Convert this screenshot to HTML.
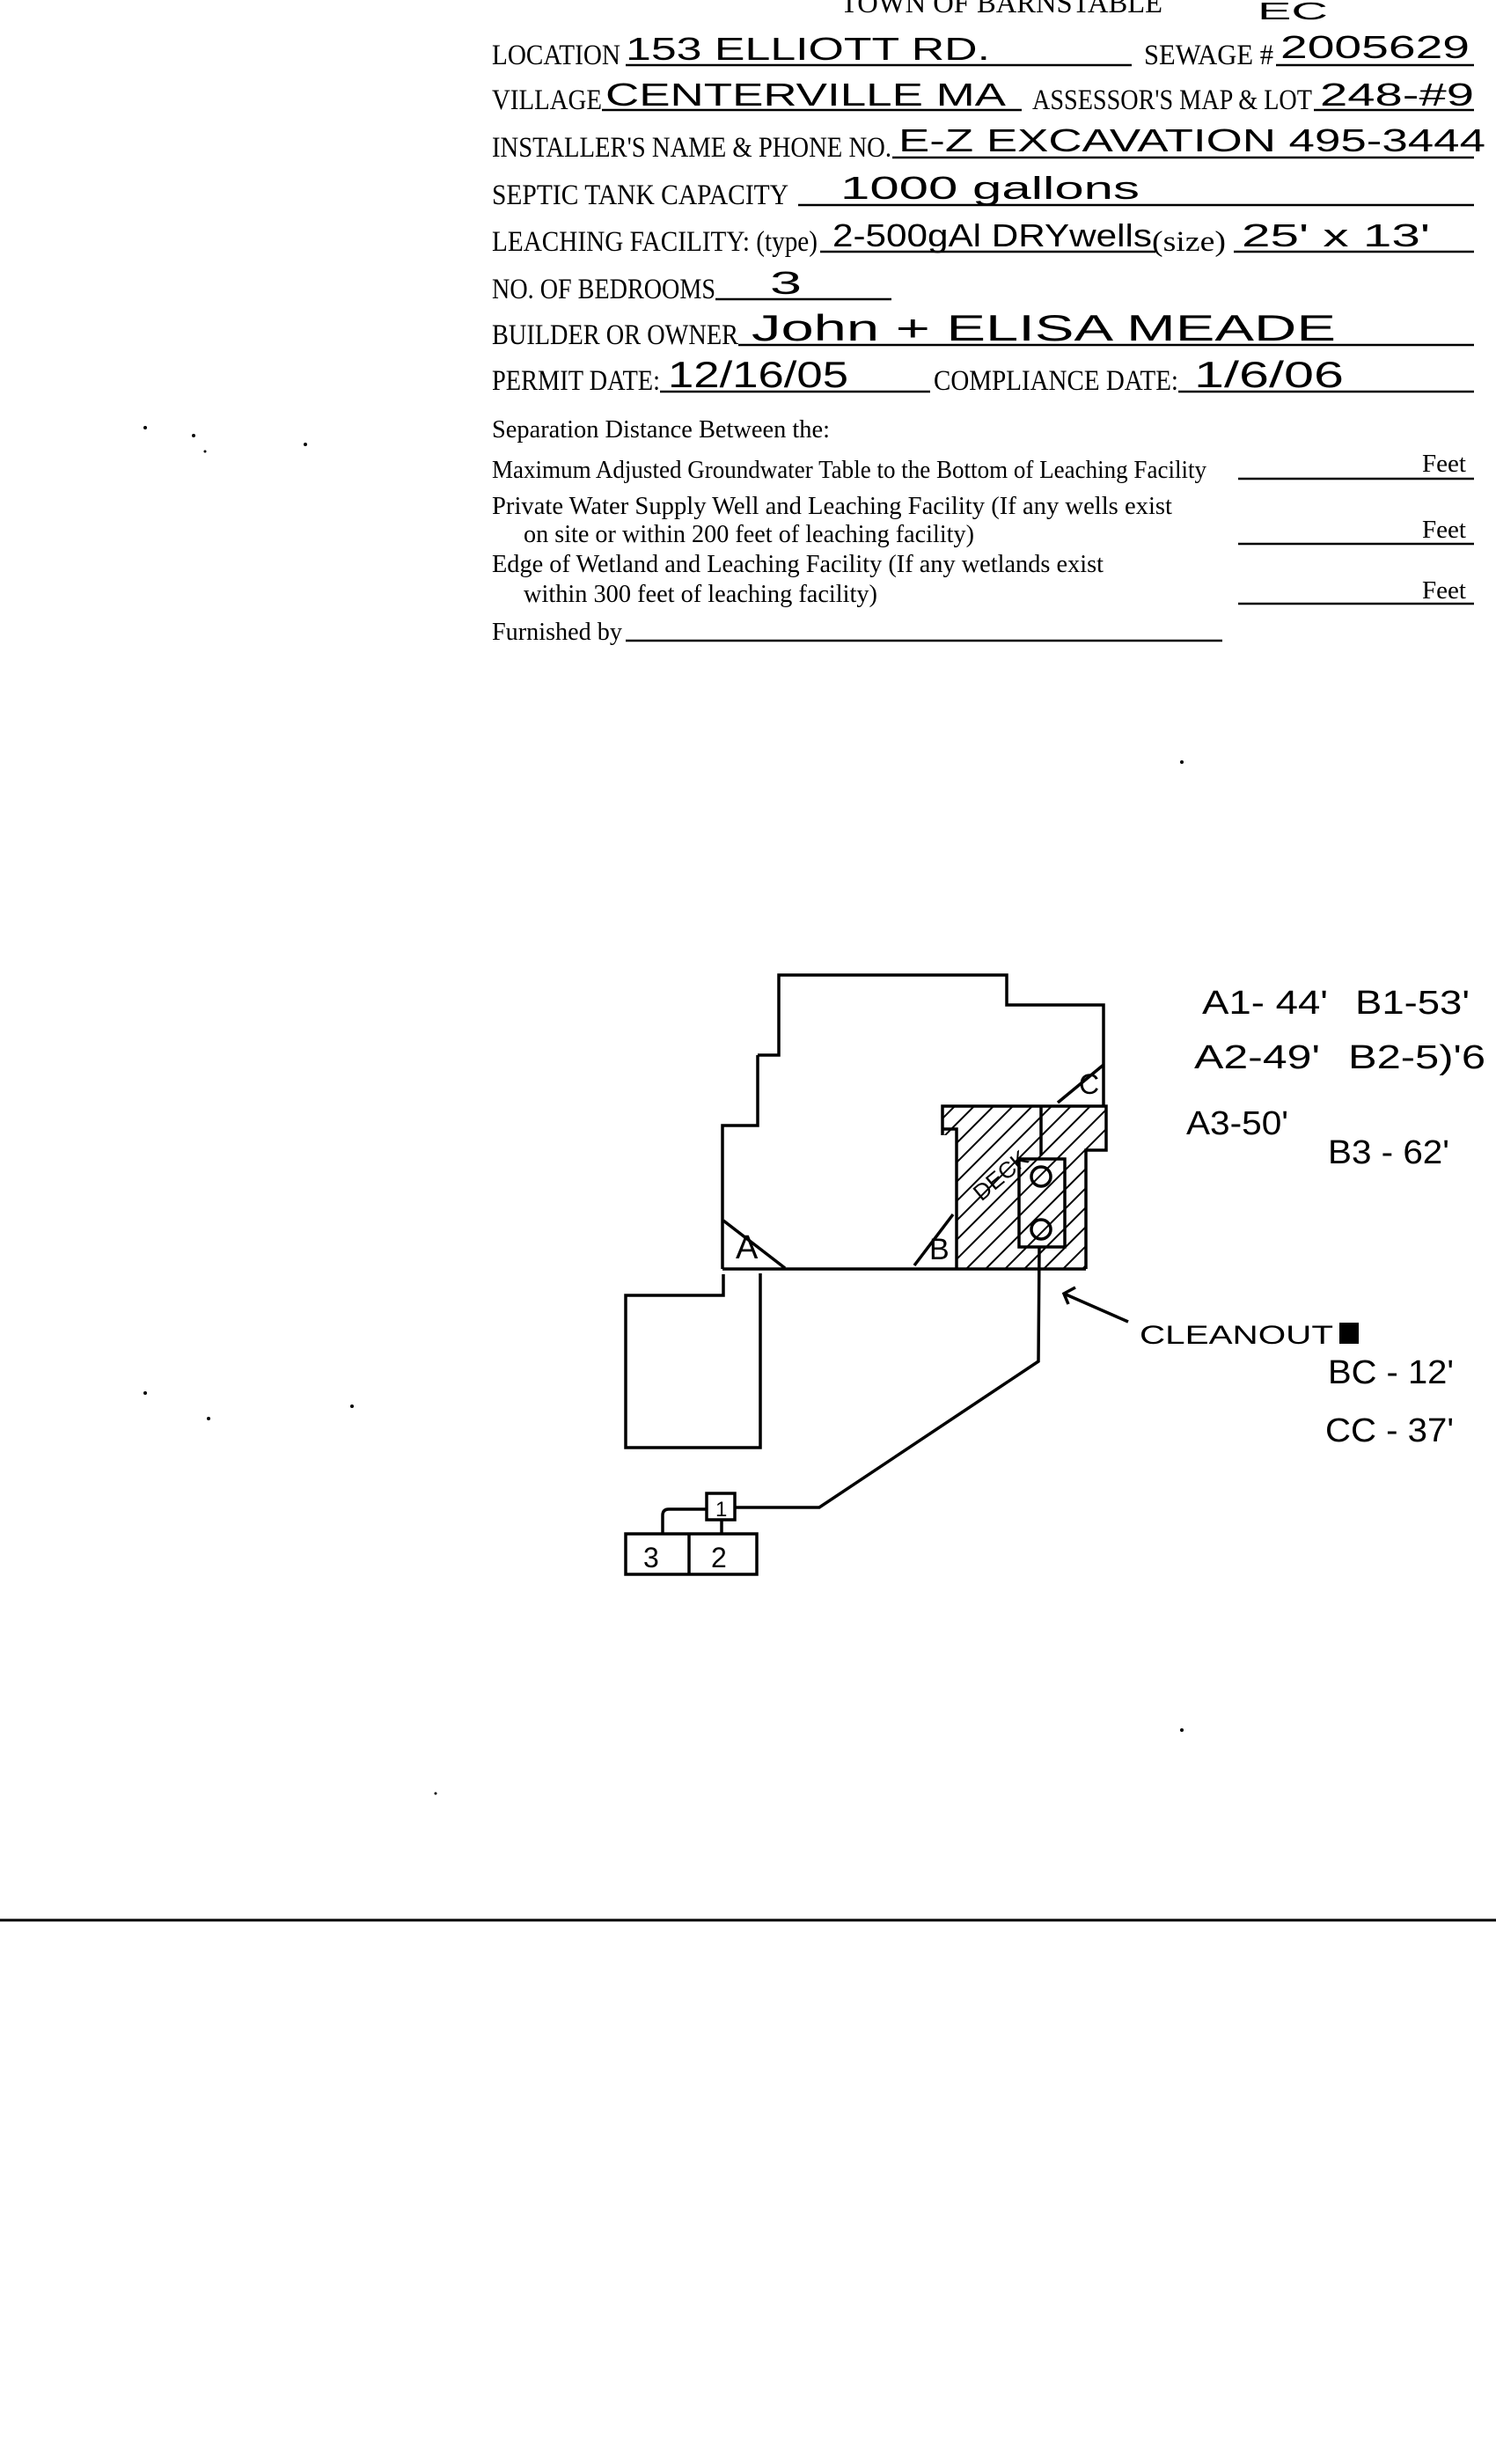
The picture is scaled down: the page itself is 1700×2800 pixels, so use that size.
<!DOCTYPE html>
<html><head><meta charset="utf-8"><style>html,body{margin:0;padding:0;background:#fff}svg{display:block}</style></head>
<body>
<svg width="1700" height="2800" viewBox="0 0 1700 2800" xmlns="http://www.w3.org/2000/svg">
<defs>
<clipPath id="deck"><polygon points="1071,1257 1257,1257 1257,1307 1234,1307 1234,1442 1087,1442 1087,1290 1071,1290"/></clipPath>
</defs>
<rect width="1700" height="2800" fill="#fff"/>
<g font-family="Liberation Serif, serif" fill="#000" font-size="33">
<text x="955" y="14" textLength="366" lengthAdjust="spacingAndGlyphs">TOWN OF BARNSTABLE</text>
<text x="559" y="73" textLength="146" lengthAdjust="spacingAndGlyphs">LOCATION</text>
<text x="1300" y="73" textLength="147" lengthAdjust="spacingAndGlyphs">SEWAGE #</text>
<text x="559" y="124" textLength="125" lengthAdjust="spacingAndGlyphs">VILLAGE</text>
<text x="1173" y="124" textLength="318" lengthAdjust="spacingAndGlyphs">ASSESSOR'S MAP &amp; LOT</text>
<text x="559" y="178" textLength="454" lengthAdjust="spacingAndGlyphs">INSTALLER'S NAME &amp; PHONE NO.</text>
<text x="559" y="232" textLength="337" lengthAdjust="spacingAndGlyphs">SEPTIC TANK CAPACITY</text>
<text x="559" y="285" textLength="370" lengthAdjust="spacingAndGlyphs">LEACHING FACILITY: (type)</text>
<text x="1309" y="285" textLength="84" lengthAdjust="spacingAndGlyphs">(size)</text>
<text x="559" y="339" textLength="254" lengthAdjust="spacingAndGlyphs">NO. OF BEDROOMS</text>
<text x="559" y="391" textLength="280" lengthAdjust="spacingAndGlyphs">BUILDER OR OWNER</text>
<text x="559" y="443" textLength="191" lengthAdjust="spacingAndGlyphs">PERMIT DATE:</text>
<text x="1061" y="443" textLength="278" lengthAdjust="spacingAndGlyphs">COMPLIANCE  DATE:</text>
<g font-size="29">
<text x="559" y="497" textLength="384" lengthAdjust="spacingAndGlyphs">Separation Distance Between the:</text>
<text x="559" y="543" textLength="812" lengthAdjust="spacingAndGlyphs">Maximum Adjusted Groundwater Table to the Bottom of Leaching Facility</text>
<text x="559" y="584" textLength="773" lengthAdjust="spacingAndGlyphs">Private Water Supply Well and Leaching Facility  (If any wells exist</text>
<text x="595" y="616" textLength="512" lengthAdjust="spacingAndGlyphs">on site or within 200 feet of leaching facility)</text>
<text x="559" y="650" textLength="695" lengthAdjust="spacingAndGlyphs">Edge of Wetland and Leaching Facility (If any wetlands exist</text>
<text x="595" y="684" textLength="402" lengthAdjust="spacingAndGlyphs">within 300 feet of leaching facility)</text>
<text x="559" y="727" textLength="148" lengthAdjust="spacingAndGlyphs">Furnished by</text>
<text x="1616" y="536" textLength="50" lengthAdjust="spacingAndGlyphs">Feet</text>
<text x="1616" y="611" textLength="50" lengthAdjust="spacingAndGlyphs">Feet</text>
<text x="1616" y="680" textLength="50" lengthAdjust="spacingAndGlyphs">Feet</text>
</g>
</g>
<g stroke="#000" stroke-width="2.5">
<line x1="711" y1="74" x2="1286" y2="74"/>
<line x1="1450" y1="74" x2="1675" y2="74"/>
<line x1="684" y1="125" x2="1161" y2="125"/>
<line x1="1493" y1="125" x2="1675" y2="125"/>
<line x1="1014" y1="179" x2="1675" y2="179"/>
<line x1="907" y1="233" x2="1675" y2="233"/>
<line x1="932" y1="286" x2="1313" y2="286"/>
<line x1="1402" y1="286" x2="1675" y2="286"/>
<line x1="813" y1="340" x2="1013" y2="340"/>
<line x1="839" y1="392" x2="1675" y2="392"/>
<line x1="750" y1="445" x2="1057" y2="445"/>
<line x1="1339" y1="445" x2="1675" y2="445"/>
<line x1="1407" y1="544" x2="1675" y2="544"/>
<line x1="1407" y1="618" x2="1675" y2="618"/>
<line x1="1407" y1="686" x2="1675" y2="686"/>
<line x1="711" y1="728" x2="1389" y2="728"/>
<line x1="0" y1="2182" x2="1700" y2="2182" stroke-width="3"/>
</g>
<g font-family="Liberation Sans, sans-serif" fill="#000" font-size="36">
<text x="1429" y="22" textLength="80" lengthAdjust="spacingAndGlyphs" font-size="28">EC</text>
<text x="711" y="68" textLength="414" lengthAdjust="spacingAndGlyphs">153 ELLIOTT RD.</text>
<text x="1455" y="66" textLength="215" lengthAdjust="spacingAndGlyphs">2005629</text>
<text x="688" y="120" textLength="455" lengthAdjust="spacingAndGlyphs">CENTERVILLE MA</text>
<text x="1500" y="120" textLength="175" lengthAdjust="spacingAndGlyphs">248-#9</text>
<text x="1021" y="172" textLength="667" lengthAdjust="spacingAndGlyphs">E-Z EXCAVATION 495-3444</text>
<text x="955" y="226" textLength="340" lengthAdjust="spacingAndGlyphs">1000 gallons</text>
<text x="946" y="280" textLength="363" lengthAdjust="spacingAndGlyphs">2-500gAl DRYwells</text>
<text x="1411" y="280" textLength="214" lengthAdjust="spacingAndGlyphs">25' x 13'</text>
<text x="875" y="334" textLength="36" lengthAdjust="spacingAndGlyphs">3</text>
<text x="854" y="387" textLength="664" lengthAdjust="spacingAndGlyphs" font-size="42">John + ELISA MEADE</text>
<text x="759" y="440" textLength="205" lengthAdjust="spacingAndGlyphs" font-size="42">12/16/05</text>
<text x="1357" y="440" textLength="170" lengthAdjust="spacingAndGlyphs" font-size="42">1/6/06</text>
<g font-size="38">
<text x="1366" y="1152" textLength="143" lengthAdjust="spacingAndGlyphs">A1- 44'</text>
<text x="1540" y="1152" textLength="130" lengthAdjust="spacingAndGlyphs">B1-53'</text>
<text x="1357" y="1214" textLength="143" lengthAdjust="spacingAndGlyphs">A2-49'</text>
<text x="1532" y="1214" textLength="156" lengthAdjust="spacingAndGlyphs">B2-5)'6</text>
<text x="1348" y="1289" textLength="116" lengthAdjust="spacingAndGlyphs">A3-50'</text>
<text x="1509" y="1322" textLength="138" lengthAdjust="spacingAndGlyphs">B3 - 62'</text>
<text x="1295" y="1527" textLength="220" lengthAdjust="spacingAndGlyphs" font-size="30">CLEANOUT</text>
<rect x="1522" y="1503" width="22" height="24"/>
<text x="1509" y="1572" textLength="143" lengthAdjust="spacingAndGlyphs">BC - 12'</text>
<text x="1506" y="1638" textLength="146" lengthAdjust="spacingAndGlyphs">CC - 37'</text>
</g>
<text x="836" y="1430" font-size="38">A</text>
<text x="1056" y="1431" font-size="34">B</text>
<text x="1226" y="1243" font-size="32">C</text>
<text x="1100" y="1356" font-size="26" transform="rotate(-40 1121 1340)">DECK</text>
<text x="731" y="1781" font-size="32">3</text>
<text x="808" y="1781" font-size="32">2</text>
<text x="813" y="1723" font-size="24">1</text>
</g>
<g fill="none" stroke="#000" stroke-width="3.5" stroke-linejoin="miter">
<polyline points="861,1199 885,1199 885,1108 1144,1108 1144,1142 1254,1142 1254,1257"/>
<polyline points="821,1442 821,1279 861,1279 861,1199"/>
<line x1="821" y1="1442" x2="1234" y2="1442"/>
<line x1="822" y1="1387" x2="892" y2="1441"/>
<line x1="1083" y1="1380" x2="1039" y2="1438"/>
<line x1="1254" y1="1210" x2="1202" y2="1253"/>
<polyline points="1071,1290 1071,1257 1257,1257 1257,1307 1234,1307 1234,1442"/>
<polyline points="1071,1283 1087,1283 1087,1442"/>
<line x1="1183" y1="1258" x2="1183" y2="1313"/>
<rect x="1158" y="1317" width="52" height="100"/>
<circle cx="1183" cy="1337" r="11"/>
<circle cx="1183" cy="1397" r="11"/>
<polyline points="1181,1417 1180,1547 931,1713 835,1713"/>
<rect x="803" y="1697" width="32" height="30"/>
<path d="M803,1715 L760,1715 Q753,1715 753,1722 L753,1743"/>
<line x1="820" y1="1727" x2="820" y2="1743"/>
<rect x="711" y="1743" width="149" height="46"/>
<line x1="783" y1="1743" x2="783" y2="1789"/>
<polyline points="822,1448 822,1472 711,1472 711,1645 864,1645 864,1447"/>
<line x1="1209" y1="1470" x2="1282" y2="1502"/>
<polyline points="1222,1463 1209,1470 1214,1482"/>
</g>
<g clip-path="url(#deck)" stroke="#000" stroke-width="2">
<line x1="900" y1="1442" x2="1100" y2="1242"/><line x1="922" y1="1442" x2="1122" y2="1242"/><line x1="944" y1="1442" x2="1144" y2="1242"/><line x1="966" y1="1442" x2="1166" y2="1242"/><line x1="988" y1="1442" x2="1188" y2="1242"/><line x1="1010" y1="1442" x2="1210" y2="1242"/><line x1="1032" y1="1442" x2="1232" y2="1242"/><line x1="1054" y1="1442" x2="1254" y2="1242"/><line x1="1076" y1="1442" x2="1276" y2="1242"/><line x1="1098" y1="1442" x2="1298" y2="1242"/><line x1="1120" y1="1442" x2="1320" y2="1242"/><line x1="1142" y1="1442" x2="1342" y2="1242"/><line x1="1164" y1="1442" x2="1364" y2="1242"/><line x1="1186" y1="1442" x2="1386" y2="1242"/><line x1="1208" y1="1442" x2="1408" y2="1242"/><line x1="1230" y1="1442" x2="1430" y2="1242"/>
</g>
<g fill="#000">
<circle cx="165" cy="486" r="2"/><circle cx="220" cy="495" r="2"/><circle cx="347" cy="505" r="2"/><circle cx="233" cy="513" r="1.5"/>
<circle cx="165" cy="1583" r="2"/><circle cx="237" cy="1612" r="2"/><circle cx="400" cy="1598" r="2"/>
<circle cx="1343" cy="866" r="2"/><circle cx="1343" cy="1966" r="2"/><circle cx="495" cy="2038" r="1.5"/>
</g>
</svg>
</body></html>
